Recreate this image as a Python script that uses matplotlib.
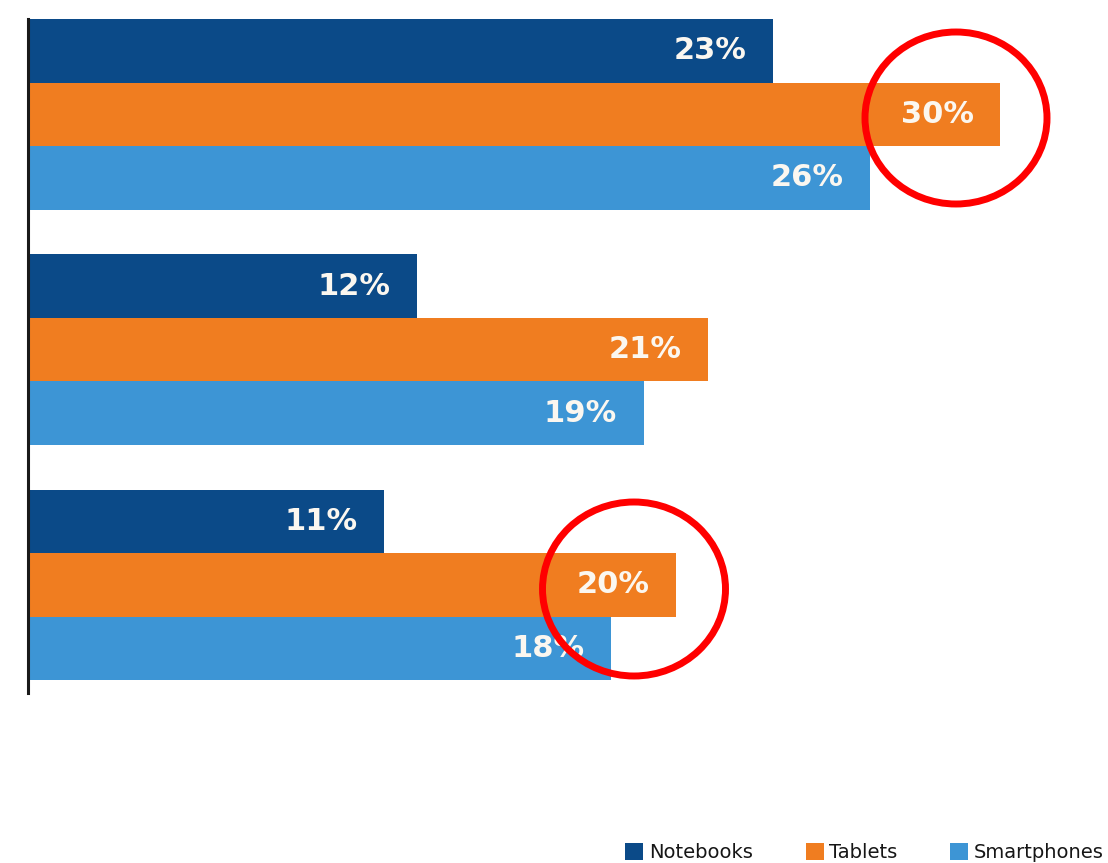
import matplotlib
matplotlib.use("Agg")
import matplotlib.pyplot as plt
from matplotlib.patches import Ellipse, Patch

# Data
series = ["Notebooks", "Tablets", "Smartphones"]
notebooks = [23, 12, 11]
tablets = [30, 21, 20]
smartphones = [26, 19, 18]
colors = ["#0b4a88", "#f07d20", "#3d95d5"]

W, H = 1108, 863
fig = plt.figure(figsize=(W / 100, H / 100), dpi=100)
ax = fig.add_axes([28 / W, 1 - 693 / H, 1080 / W, (693 - 19) / H])

bar_h = 0.27
values = [notebooks, tablets, smartphones]
ngroups = len(notebooks)
for k, (name, vals, col) in enumerate(zip(series, values, colors)):
    ys = [g + (k - 1) * bar_h for g in range(ngroups)]
    ax.barh(ys, vals, height=bar_h, color=col, linewidth=0, label=name)
    for y, v in zip(ys, vals):
        ax.annotate(f"{v}%", xy=(v, y), xytext=(-19, 0), textcoords="offset points",
                    ha="right", va="center", color="#fbf7f0", fontsize=22,
                    fontweight="bold", family="DejaVu Sans")

ax.set_xlim(0, 1080 / 32.4)
ax.set_ylim(2.46, -0.405)
for s in ["top", "right", "bottom"]:
    ax.spines[s].set_visible(False)
ax.spines["left"].set_linewidth(2.2)
ax.spines["left"].set_color("#1a1a1a")
ax.set_xticks([])
ax.set_yticks([])

# Red highlight circles (figure pixel coordinates)
for (cx, cy, w, h) in [(956, 118, 182, 172), (634, 589, 183, 174)]:
    e = Ellipse((cx / W, 1 - cy / H), w / W, h / H, transform=fig.transFigure,
                fill=False, edgecolor="#ff0000", linewidth=5, zorder=10)
    fig.add_artist(e)

handles = [Patch(facecolor=c, edgecolor="none") for c in colors]
fig.legend(handles, series, loc="lower right", bbox_to_anchor=(1104 / W, 1 - 862 / H),
           ncol=3, frameon=False, fontsize=14, handlelength=0.93,
           handleheight=0.93, handletextpad=0.3, columnspacing=2.7,
           labelcolor="#161616", borderaxespad=0, borderpad=0)

fig.savefig("out.png", dpi=100, facecolor="white")
